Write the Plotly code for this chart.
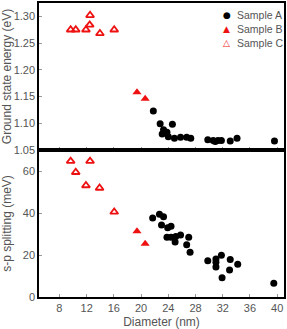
import plotly.graph_objects as go
from plotly.subplots import make_subplots

# Sample A (black dots)
a_d_top = [21.8, 22.8, 24.6, 23.3, 23.1, 23.8, 24.0, 24.9, 25.8, 26.7, 27.3, 29.8, 30.6, 31.3, 31.8, 33.1, 34.1, 39.6, 30.9]
a_e_top = [1.123, 1.099, 1.098, 1.088, 1.080, 1.083, 1.075, 1.072, 1.074, 1.074, 1.072, 1.069, 1.068, 1.068, 1.068, 1.067, 1.072, 1.067, 1.066]
a_d_bot = [21.7, 22.7, 23.3, 23.0, 23.9, 24.4, 23.8, 24.4, 25.1, 25.8, 25.0, 27.0, 26.7, 27.2,
           29.8, 31.0, 31.0, 31.0, 31.8, 33.1, 34.2, 33.0, 31.9, 39.5]
a_s_bot = [37.6, 39.4, 38.2, 34.3, 33.0, 33.7, 28.4, 28.4, 28.8, 29.5, 26.2, 28.4, 24.9, 21.3,
           17.3, 18.1, 16.5, 14.3, 19.9, 17.8, 15.6, 12.9, 9.2, 6.5]

# Sample B (filled red triangles)
b_d = [19.4, 20.6]
b_e = [1.158, 1.146]
b_s = [31.3, 25.4]

# Sample C (open red triangles)
c_d_top = [9.65, 10.4, 11.9, 12.45, 12.5, 13.95, 16.05]
c_e_top = [1.275, 1.275, 1.275, 1.284, 1.302, 1.268, 1.275]
c_d_bot = [9.65, 12.5, 10.4, 11.9, 13.9, 16.05]
c_s_bot = [64.7, 64.7, 59.4, 53.1, 51.9, 40.5]

series_names = ["Sample A", "Sample B", "Sample C"]
legend_symbols = ["●", "▲", "△"]

RED = "#ee1111"
GRAY = "#555555"
FONT = "Liberation Sans, Arial, sans-serif"

fig = make_subplots(rows=2, cols=1, shared_xaxes=True, vertical_spacing=0)

mA = dict(symbol="circle", size=7, color="black")
mB = dict(symbol="triangle-up", size=8, color=RED)
mC = dict(symbol="triangle-up-open", size=7, color=RED, line=dict(width=1.8, color=RED))

fig.add_trace(go.Scatter(x=a_d_top, y=a_e_top, mode="markers", marker=mA, name=series_names[0]), row=1, col=1)
fig.add_trace(go.Scatter(x=b_d, y=b_e, mode="markers", marker=mB, name=series_names[1]), row=1, col=1)
fig.add_trace(go.Scatter(x=c_d_top, y=c_e_top, mode="markers", marker=mC, name=series_names[2]), row=1, col=1)
fig.add_trace(go.Scatter(x=a_d_bot, y=a_s_bot, mode="markers", marker=mA, name=series_names[0]), row=2, col=1)
fig.add_trace(go.Scatter(x=b_d, y=b_s, mode="markers", marker=mB, name=series_names[1]), row=2, col=1)
fig.add_trace(go.Scatter(x=c_d_bot, y=c_s_bot, mode="markers", marker=mC, name=series_names[2]), row=2, col=1)

axis_common = dict(showline=True, linecolor="black", linewidth=1.5, mirror=True,
                   showgrid=False, zeroline=False, ticks="inside", ticklen=3,
                   tickcolor="#999999", tickfont=dict(family=FONT, size=11, color=GRAY))

fig.update_xaxes(**axis_common, range=[5, 41], tickvals=[8, 12, 16, 20, 24, 28, 32, 36, 40])
fig.update_xaxes(title=dict(text="Diameter (nm)", font=dict(family=FONT, size=12, color=GRAY),
                            standoff=6), row=2, col=1)
fig.update_yaxes(**axis_common)
fig.update_yaxes(range=[1.05, 1.325], tickvals=[1.05, 1.10, 1.15, 1.20, 1.25, 1.30],
                 tickformat=".2f",
                 title=dict(text="Ground state energy (eV)",
                            font=dict(family=FONT, size=12, color=GRAY), standoff=4),
                 row=1, col=1)
fig.update_yaxes(range=[0, 70], tickvals=[0, 20, 40, 60],
                 title=dict(text="s-p splitting (meV)",
                            font=dict(family=FONT, size=12, color=GRAY), standoff=10),
                 row=2, col=1)

# compact legend as annotations
sym_colors = ["black", RED, RED]
for i, (nm, sym, col) in enumerate(zip(series_names, legend_symbols, sym_colors)):
    ypix = 14 + 14 * i
    yp = 1 - (ypix - 2) / 296
    fig.add_annotation(xref="paper", yref="paper", x=(227 - 34) / 252, y=yp,
                       text=sym, showarrow=False, xanchor="center", yanchor="middle",
                       borderpad=0, font=dict(family="DejaVu Sans", size=9, color=col))
    fig.add_annotation(xref="paper", yref="paper", x=(237 - 34) / 252, y=yp,
                       text=nm, showarrow=False, xanchor="left", yanchor="middle",
                       borderpad=0, font=dict(family=FONT, size=10.5, color=GRAY))

fig.update_layout(
    width=287, height=329,
    margin=dict(l=34, r=1, t=2, b=31),
    paper_bgcolor="white", plot_bgcolor="white",
    font=dict(family=FONT, color=GRAY),
    showlegend=False,
)

fig.write_html("out.html")
